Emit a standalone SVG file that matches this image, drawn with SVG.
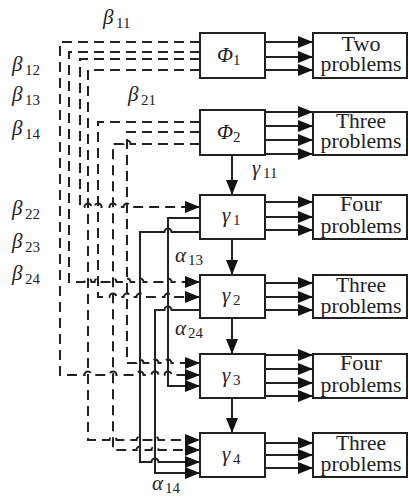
<svg xmlns="http://www.w3.org/2000/svg" width="409" height="499" viewBox="0 0 409 499">
<style>
.box{fill:#fff;stroke:#222;stroke-width:2}
.ln{fill:none;stroke:#222;stroke-width:2}
.ds{fill:none;stroke:#222;stroke-width:2;stroke-dasharray:10 6}
.t{font-family:"Liberation Serif","Times New Roman",serif;font-size:20px;fill:#222;text-anchor:middle}
.g{font-family:"Liberation Serif","Times New Roman",serif;font-style:italic;font-size:21px;fill:#222}
.s{font-family:"Liberation Serif","Times New Roman",serif;font-size:15px;fill:#222}
</style>
<defs>
<marker id="ah" markerUnits="userSpaceOnUse" markerWidth="15" markerHeight="12" refX="15" refY="6" orient="auto">
<path d="M0,0 L15,6 L0,12 z" fill="#111"/>
</marker>
</defs>

<g id="connectors">
<g class="ln" marker-end="url(#ah)">
<path d="M265,42 H313"/><path d="M265,57 H313"/><path d="M265,70 H313"/>
<path d="M265,112 H313"/><path d="M265,126 H313"/><path d="M265,140 H313"/><path d="M265,154 H313"/>
<path d="M265,202 H313"/><path d="M265,217 H313"/><path d="M265,230 H313"/>
<path d="M265,283 H313"/><path d="M265,297 H313"/><path d="M265,310 H313"/>
<path d="M265,355 H313"/><path d="M265,369 H313"/><path d="M265,383 H313"/><path d="M265,396 H313"/>
<path d="M265,443 H313"/><path d="M265,455 H313"/><path d="M265,468 H313"/>
<path d="M232,155 V195"/><path d="M232,239 V275"/><path d="M232,318 V354"/><path d="M232,398 V433"/>
</g>
<g class="ds" marker-end="url(#ah)">
<path d="M200,42 H60 V375 H84.5 A3.5,3.5 0 0 1 91.5,375 H109.5 A3.5,3.5 0 0 1 116.5,375 H136.5 A3.5,3.5 0 0 1 143.5,375 H151.5 A3.5,3.5 0 0 1 158.5,375 H164.5 A3.5,3.5 0 0 1 171.5,375 H200"/>
<path d="M200,52 H69 V282 H84.5 A3.5,3.5 0 0 1 91.5,282 H94.5 A3.5,3.5 0 0 1 101.5,282 H109.5 A3.5,3.5 0 0 1 116.5,282 H123.5 A3.5,3.5 0 0 1 130.5,282 H136.5 A3.5,3.5 0 0 1 143.5,282 H164.5 A3.5,3.5 0 0 1 171.5,282 H200"/>
<path d="M200,59 H80 V207 H84.5 A3.5,3.5 0 0 1 91.5,207 H94.5 A3.5,3.5 0 0 1 101.5,207 H109.5 A3.5,3.5 0 0 1 116.5,207 H123.5 A3.5,3.5 0 0 1 130.5,207 H200"/>
<path d="M200,70 H88 V440 H109.5 A3.5,3.5 0 0 1 116.5,440 H136.5 A3.5,3.5 0 0 1 143.5,440 H151.5 A3.5,3.5 0 0 1 158.5,440 H200"/>
<path d="M200,122 H98 V297 H109.5 A3.5,3.5 0 0 1 116.5,297 H123.5 A3.5,3.5 0 0 1 130.5,297 H136.5 A3.5,3.5 0 0 1 143.5,297 H164.5 A3.5,3.5 0 0 1 171.5,297 H200"/>
<path d="M200,132 H127 V363 H136.5 A3.5,3.5 0 0 1 143.5,363 H151.5 A3.5,3.5 0 0 1 158.5,363 H164.5 A3.5,3.5 0 0 1 171.5,363 H200"/>
<path d="M200,144 H130.5 A3.5,3.5 0 0 0 123.5,144 H113 V450 H136.5 A3.5,3.5 0 0 1 143.5,450 H151.5 A3.5,3.5 0 0 1 158.5,450 H200"/>
</g>
<g class="ln" marker-end="url(#ah)">
<path d="M200,218 H168 V386 H200"/>
<path d="M200,232 H171.5 A3.5,3.5 0 0 0 164.5,232 H140 V462 H151.5 A3.5,3.5 0 0 1 158.5,462 H200"/>
<path d="M200,310 H171.5 A3.5,3.5 0 0 0 164.5,310 H155 V473 H200"/>
</g>
</g>

<g id="phi1"><rect class="box" x="200" y="33" width="65" height="45"/><text class="g" x="217" y="62">Φ</text><text class="s" x="233" y="65">1</text></g>
<g id="phi2"><rect class="box" x="200" y="110" width="65" height="45"/><text class="g" x="217" y="139">Φ</text><text class="s" x="233" y="142">2</text></g>
<g id="gamma1"><rect class="box" x="200" y="195" width="65" height="44"/><text class="g" x="222" y="222">γ</text><text class="s" x="233" y="225">1</text></g>
<g id="gamma2"><rect class="box" x="200" y="275" width="65" height="43"/><text class="g" x="222" y="302">γ</text><text class="s" x="233" y="305">2</text></g>
<g id="gamma3"><rect class="box" x="200" y="354" width="65" height="44"/><text class="g" x="222" y="382">γ</text><text class="s" x="233" y="385">3</text></g>
<g id="gamma4"><rect class="box" x="200" y="433" width="65" height="44"/><text class="g" x="222" y="461">γ</text><text class="s" x="233" y="464">4</text></g>

<g id="out1"><rect class="box" x="313" y="33" width="94" height="45"/><text class="t" x="361" y="51" textLength="39" lengthAdjust="spacingAndGlyphs">Two</text><text class="t" x="361" y="71" textLength="81" lengthAdjust="spacingAndGlyphs">problems</text></g>
<g id="out2"><rect class="box" x="313" y="112" width="94" height="43"/><text class="t" x="361" y="128" textLength="50" lengthAdjust="spacingAndGlyphs">Three</text><text class="t" x="361" y="148" textLength="81" lengthAdjust="spacingAndGlyphs">problems</text></g>
<g id="out3"><rect class="box" x="313" y="195" width="94" height="44"/><text class="t" x="361" y="211" textLength="42" lengthAdjust="spacingAndGlyphs">Four</text><text class="t" x="361" y="233" textLength="81" lengthAdjust="spacingAndGlyphs">problems</text></g>
<g id="out4"><rect class="box" x="313" y="275" width="94" height="43"/><text class="t" x="361" y="292" textLength="50" lengthAdjust="spacingAndGlyphs">Three</text><text class="t" x="361" y="313" textLength="81" lengthAdjust="spacingAndGlyphs">problems</text></g>
<g id="out5"><rect class="box" x="313" y="354" width="94" height="44"/><text class="t" x="361" y="370" textLength="42" lengthAdjust="spacingAndGlyphs">Four</text><text class="t" x="361" y="392" textLength="81" lengthAdjust="spacingAndGlyphs">problems</text></g>
<g id="out6"><rect class="box" x="313" y="433" width="94" height="44"/><text class="t" x="361" y="450" textLength="50" lengthAdjust="spacingAndGlyphs">Three</text><text class="t" x="361" y="471" textLength="81" lengthAdjust="spacingAndGlyphs">problems</text></g>

<g id="labels">
<text class="g" x="103" y="24">β</text><text class="s" x="116" y="28">11</text>
<text class="g" x="12" y="71">β</text><text class="s" x="25" y="75">12</text>
<text class="g" x="12" y="101">β</text><text class="s" x="25" y="105">13</text>
<text class="g" x="12" y="135">β</text><text class="s" x="25" y="139">14</text>
<text class="g" x="128" y="101">β</text><text class="s" x="141" y="105">21</text>
<text class="g" x="12" y="215">β</text><text class="s" x="25" y="219">22</text>
<text class="g" x="12" y="248">β</text><text class="s" x="25" y="252">23</text>
<text class="g" x="12" y="280">β</text><text class="s" x="25" y="284">24</text>
<text class="g" x="252" y="175">γ</text><text class="s" x="263" y="178">11</text>
<text class="g" x="175" y="262">α</text><text class="s" x="188" y="265">13</text>
<text class="g" x="175" y="335">α</text><text class="s" x="188" y="338">24</text>
<text class="g" x="152" y="490">α</text><text class="s" x="165" y="493">14</text>
</g>
</svg>
